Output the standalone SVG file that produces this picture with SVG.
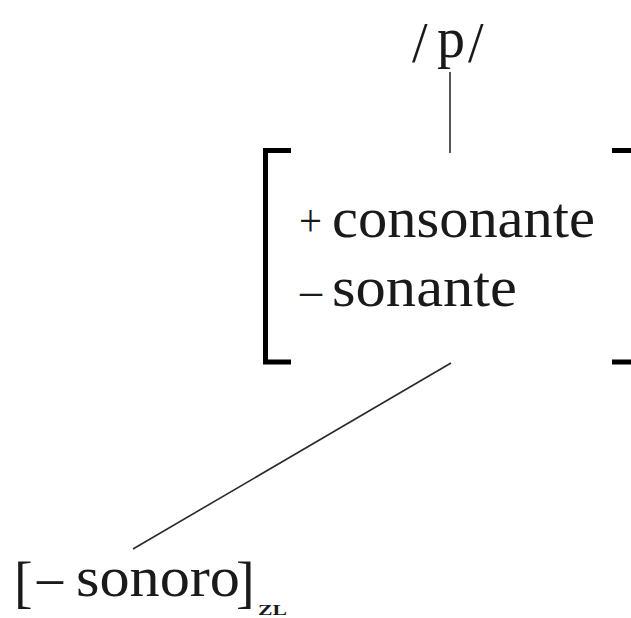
<svg xmlns="http://www.w3.org/2000/svg" width="631" height="618" viewBox="0 0 631 618">
<style>
.t{font-family:"Liberation Serif","Times New Roman",serif;fill:#1a1a1a;font-size:56px}
.s{font-family:"Liberation Serif","Times New Roman",serif;fill:#1a1a1a;font-size:46px}
.br{fill:none;stroke:#000;stroke-width:5;stroke-linecap:butt;stroke-linejoin:miter}
.c{stroke:#2a2a2a;stroke-width:1.6;fill:none}
.zl{font-family:"Liberation Serif","Times New Roman",serif;fill:#1a1a1a;font-size:15px;font-weight:600}
</style>
<rect width="631" height="618" fill="#fff"/>
<g id="connectors">
<line class="c" x1="450" y1="72" x2="450" y2="153"/>
<line class="c" x1="451" y1="363" x2="133" y2="549"/>
</g>
<g id="phoneme">
<text class="t" x="412" y="62" font-size="66">/</text>
<text class="t" x="437" y="57">p</text>
<text class="t" x="468" y="62" font-size="66">/</text>
</g>
<g id="features">
<path class="br" d="M291,150.5 H265.5 V362 H291"/>
<path class="br" d="M612,150.5 H636 V362 H612"/>
<text class="s" x="299" y="236" textLength="23" lengthAdjust="spacingAndGlyphs">+</text>
<text class="t" x="332" y="237" textLength="263" lengthAdjust="spacingAndGlyphs">consonante</text>
<text class="s" x="300" y="306" textLength="22" lengthAdjust="spacingAndGlyphs">–</text>
<text class="t" x="332" y="306" textLength="185" lengthAdjust="spacingAndGlyphs">sonante</text>
</g>
<g id="sonoro">
<text class="t" x="14" y="601" font-size="66">[</text>
<text class="t" x="37" y="596" textLength="26" lengthAdjust="spacingAndGlyphs">–</text>
<text class="t" x="76" y="596" textLength="164" lengthAdjust="spacingAndGlyphs">sonoro</text>
<text class="t" x="236" y="601" font-size="66">]</text>
<text class="zl" x="258" y="615" textLength="29" lengthAdjust="spacingAndGlyphs">ZL</text>
</g>
</svg>
